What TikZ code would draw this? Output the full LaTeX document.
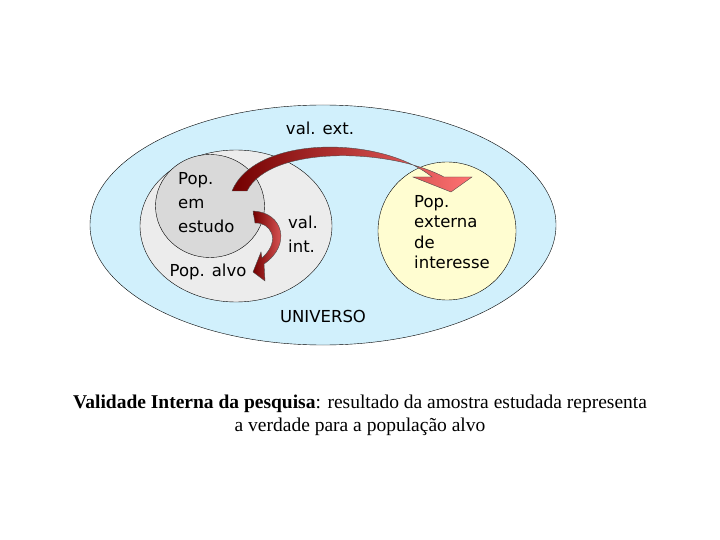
\documentclass[tikz,border=0pt]{standalone}
\usepackage{fontspec}
\usetikzlibrary{shapes.geometric}
\setmainfont{Liberation Serif}
\newfontfamily\tah{DejaVu Sans}
\begin{document}
\begin{tikzpicture}[x=1pt,y=-1pt,
 lab/.style={font=\tah\fontsize{16.5}{24}\selectfont, inner sep=0pt},
 arr/.style={draw=black!70,line width=0.4pt,left color=red!45!black,right color=red!55!white}]
\useasboundingbox (0,0) rectangle (720,540);
\node[draw,fill=cyan!18,ellipse,minimum width=466,minimum height=240,inner sep=0] (univ) at (323,225) {};
\node[draw,fill=gray!15,ellipse,minimum width=192,minimum height=152,inner sep=0] (alvo) at (236,226) {};
\node[draw,fill=gray!30,ellipse,minimum width=109,minimum height=103,inner sep=0] (estudo) at (210,206) {};
\node[draw,fill=yellow!18,circle,minimum size=138,inner sep=0] (ext) at (447,231) {};
% big arrow
\path[arr] (232,191) .. controls (255,135) and (380,135) .. (432,177) -- (413,177) -- (451,192) -- (472,177) -- (444,177)
  .. controls (390,148) and (270,145) .. (247,191) -- cycle;
% small arrow
\path[arr] (253,211) .. controls (283,212) and (292,245) .. (264,264) -- (265,281) -- (253,272) -- (261,252) -- (262,258)
  .. controls (282,240) and (270,222) .. (255,223) -- cycle;
\node[lab] (ve) at (320,128) {val. ext.};
\node[lab,align=left,anchor=north west] (pe) at (178,172) {Pop.\\em\\estudo};
\node[lab,align=left,anchor=north west] (vi) at (288,216) {val.\\int.};
\node[lab] (pa) at (208,272) {Pop. alvo};
\node[lab,font=\tah\fontsize{16.5}{20.5}\selectfont,align=left,anchor=north west] (px) at (414,195) {Pop.\\externa\\de\\interesse};
\node[lab] (u) at (323,316) {UNIVERSO};
\node[font=\fontsize{19.5}{23}\selectfont,align=center,inner sep=0] (cap) at (360,415)
 {\textbf{Validade Interna da pesquisa}: resultado da amostra estudada representa\\a verdade para a populaç\~ao alvo};
\end{tikzpicture}
\end{document}
